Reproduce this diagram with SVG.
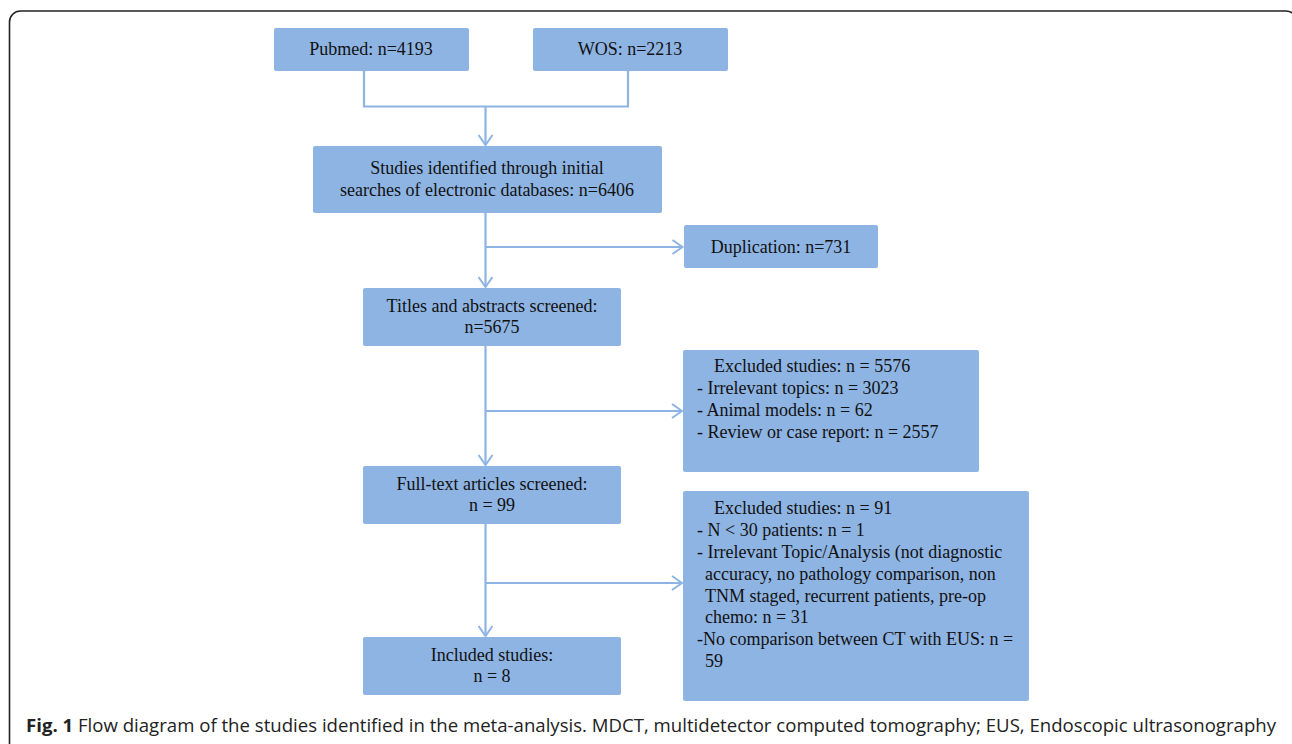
<svg xmlns="http://www.w3.org/2000/svg" width="1292" height="744" viewBox="0 0 1292 744">
<style>
.box{fill:#8EB4E3;}
.t{font-family:"Liberation Serif","Times New Roman",serif;font-size:18px;fill:#111;}
.c{text-anchor:middle;}
.ln{fill:none;stroke:#8EB4E3;stroke-width:2.2;}
.cap{font-family:"Open Sans","Liberation Sans",sans-serif;font-size:18.5px;fill:#222;}
</style>
<defs>
<marker id="ah" viewBox="-12 -8 14 16" refX="0" refY="0" markerWidth="14" markerHeight="16" markerUnits="userSpaceOnUse" orient="auto">
<path d="M-10,-7 L0,0 L-10,7" fill="none" stroke="#8EB4E3" stroke-width="2"/>
</marker>
</defs>
<rect x="9.5" y="11" width="1287.5" height="760" rx="11" ry="11" fill="none" stroke="#222" stroke-width="1.6"/>
<g id="connectors">
<path class="ln" d="M364 71 V106.5 H628 V71"/>
<path class="ln" d="M485.5 106.5 V145" marker-end="url(#ah)"/>
<path class="ln" d="M485.5 213 V287" marker-end="url(#ah)"/>
<path class="ln" d="M485.5 247 H682.5" marker-end="url(#ah)"/>
<path class="ln" d="M485.5 346 V465" marker-end="url(#ah)"/>
<path class="ln" d="M485.5 411 H682" marker-end="url(#ah)"/>
<path class="ln" d="M485.5 524 V636" marker-end="url(#ah)"/>
<path class="ln" d="M485.5 583 H682" marker-end="url(#ah)"/>
</g>
<g id="pubmed">
<rect class="box" x="274" y="28" width="195" height="43" rx="2"/>
<text class="t c" x="371" y="55">Pubmed: n=4193</text>
</g>
<g id="wos">
<rect class="box" x="533" y="28" width="195" height="43" rx="2"/>
<text class="t c" x="630" y="55">WOS: n=2213</text>
</g>
<g id="studies">
<rect class="box" x="313" y="146" width="349" height="67" rx="2"/>
<text class="t c" x="487" y="174">Studies identified through initial</text>
<text class="t c" x="487" y="195.5">searches of electronic databases: n=6406</text>
</g>
<g id="duplication">
<rect class="box" x="684" y="225" width="194" height="43" rx="2"/>
<text class="t c" x="781" y="253">Duplication: n=731</text>
</g>
<g id="titles">
<rect class="box" x="363" y="288" width="258" height="58" rx="2"/>
<text class="t c" x="492" y="312">Titles and abstracts screened:</text>
<text class="t c" x="492" y="333">n=5675</text>
</g>
<g id="excluded1">
<rect class="box" x="683" y="350" width="296" height="122" rx="2"/>
<text class="t" x="714" y="372">Excluded studies: n = 5576</text>
<text class="t" x="697" y="394">- Irrelevant topics: n = 3023</text>
<text class="t" x="697" y="416">- Animal models: n = 62</text>
<text class="t" x="697" y="438">- Review or case report: n = 2557</text>
</g>
<g id="fulltext">
<rect class="box" x="363" y="466" width="258" height="58" rx="2"/>
<text class="t c" x="492" y="489.5">Full-text articles screened:</text>
<text class="t c" x="492" y="510.5">n = 99</text>
</g>
<g id="excluded2">
<rect class="box" x="683" y="491" width="346" height="210" rx="2"/>
<text class="t" x="714" y="514">Excluded studies: n = 91</text>
<text class="t" x="697" y="536">- N &lt; 30 patients: n = 1</text>
<text class="t" x="697" y="558">- Irrelevant Topic/Analysis (not diagnostic</text>
<text class="t" x="705" y="580">accuracy, no pathology comparison, non</text>
<text class="t" x="705" y="601.5">TNM staged, recurrent patients, pre-op</text>
<text class="t" x="705" y="623">chemo: n = 31</text>
<text class="t" x="697" y="645">-No comparison between CT with EUS: n =</text>
<text class="t" x="705" y="666.5">59</text>
</g>
<g id="included">
<rect class="box" x="363" y="637" width="258" height="58" rx="2"/>
<text class="t c" x="492" y="661">Included studies:</text>
<text class="t c" x="492" y="682">n = 8</text>
</g>
<text class="cap" x="26" y="732" textLength="1250" lengthAdjust="spacingAndGlyphs"><tspan font-weight="bold">Fig. 1</tspan> Flow diagram of the studies identified in the meta-analysis. MDCT, multidetector computed tomography; EUS, Endoscopic ultrasonography</text>
</svg>
